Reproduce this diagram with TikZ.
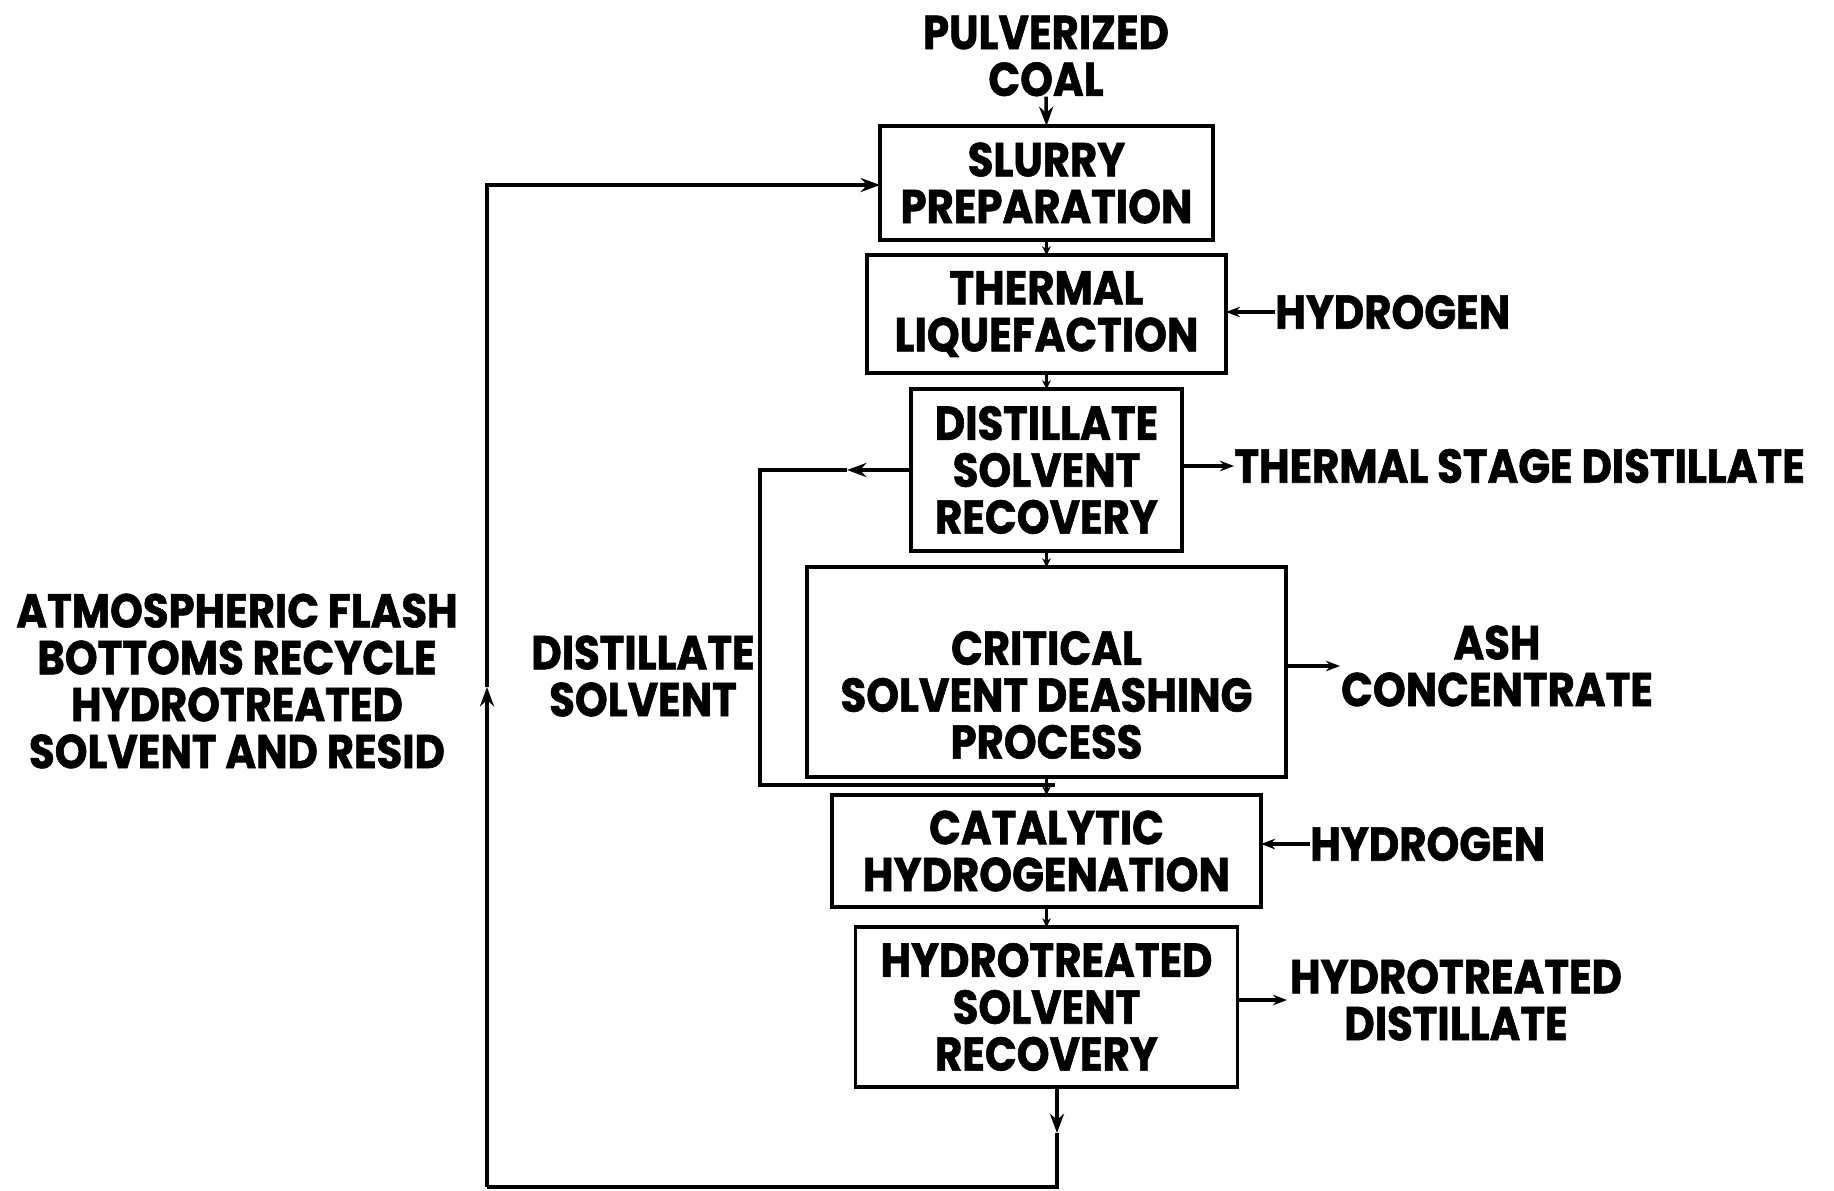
\documentclass[tikz,border=0pt]{standalone}
\usepackage{fontspec}
\setmainfont{Poppins}[FakeStretch=0.88, BoldFeatures={FakeBold=1.2}]
\usepackage{tikz}
\usetikzlibrary{arrows.meta,positioning,calc}

\begin{document}
\begin{tikzpicture}[
    unit/.style   = {rectangle, draw=black, line width=2pt, align=center,
                     inner sep=0pt, outer sep=0pt,
                     font=\fontsize{27}{26.7}\selectfont\bfseries},
    lbl/.style    = {align=center, inner sep=0pt,
                     font=\fontsize{27}{26.7}\selectfont\bfseries},
    flow/.style   = {line width=2pt, draw=black},
    arr/.style    = {-{Stealth[length=11pt,width=8pt]}, line width=2pt, draw=black},
    tiny/.style   = {-{Stealth[length=5pt,width=5pt]}, line width=2pt, draw=black},
    side/.style   = {-{Stealth[length=8pt,width=6pt]}, line width=2pt, draw=black}
  ]
    \useasboundingbox (0,0) rectangle (36.68,-23.8);

    % main train of units
    \node[unit, minimum width=6.66cm, minimum height=2.28cm] (slurry) at (20.93,-3.66)
         {SLURRY\\PREPARATION};
    \node[unit, minimum width=7.18cm, minimum height=2.36cm, below=0.30cm of slurry] (thermal)
         {THERMAL\\LIQUEFACTION};
    \node[unit, minimum width=5.42cm, minimum height=3.24cm, below=0.32cm of thermal] (dsr)
         {DISTILLATE\\SOLVENT\\RECOVERY};
    \node[unit, minimum width=9.58cm, minimum height=4.20cm, below=0.32cm of dsr] (csd) {};
    \node[lbl] (csdtxt) at ($(csd.center)+(0,-0.46)$)
         {CRITICAL\\SOLVENT DEASHING\\PROCESS};
    \node[unit, minimum width=8.58cm, minimum height=2.24cm, below=0.36cm of csd] (cat)
         {CATALYTIC\\HYDROGENATION};
    \node[unit, minimum width=7.64cm, minimum height=3.20cm, below=0.40cm of cat] (hsr)
         {HYDROTREATED\\SOLVENT\\RECOVERY};

    % feeds and products
    \node[lbl] (coal) at (20.92,-1.12) {PULVERIZED\\COAL};
    \node[lbl, anchor=west] (h2a) at (25.50,-6.24) {HYDROGEN};
    \node[lbl, anchor=west] (tsd) at (24.68,-9.32) {THERMAL STAGE DISTILLATE};
    \node[lbl] (ash) at (29.94,-13.32) {ASH\\CONCENTRATE};
    \node[lbl, anchor=west] (h2b) at (26.20,-16.88) {HYDROGEN};
    \node[lbl] (htd) at (29.12,-20.00) {HYDROTREATED\\DISTILLATE};
    \node[lbl] (atm) at (4.74,-13.62)
         {ATMOSPHERIC FLASH\\BOTTOMS RECYCLE\\HYDROTREATED\\SOLVENT AND RESID};
    \node[lbl] (dsolv) at (12.86,-13.52) {DISTILLATE\\SOLVENT};

    % loop corners
    \coordinate (dsL) at (15.20,-9.40);
    \coordinate (dsB) at (15.20,-15.70);
    \coordinate (dsJ) at (21.10,-15.70);
    \coordinate (rcD) at (21.14,-22.66);
    \coordinate (rcR) at (21.14,-23.74);
    \coordinate (rcL) at (9.74,-23.74);
    \coordinate (rcU) at (9.74,-13.74);
    \coordinate (rcT) at (9.74,-3.70);

    \draw[arr]  (coal.south) -- (slurry.north);
    \draw[tiny] (slurry) -- (thermal);
    \draw[tiny] (thermal) -- (dsr);
    \draw[tiny] (dsr) -- (csd);
    \draw[tiny] (csd) -- (cat);
    \draw[tiny] (cat) -- (hsr);

    \draw[side] (h2a.west) -- (thermal.east |- h2a.west);
    \draw[side] (dsr.east |- tsd.west) -- (tsd.west);
    \draw[side] (csd.east |- 0,-13.32) -- (26.80,-13.32);
    \draw[side] (h2b.west) -- (cat.east |- h2b.west);
    \draw[side] (hsr.east |- 0,-20.00) -- (25.74,-20.00);

    % distillate solvent return
    \draw[arr]  (dsr.west |- dsL) -- (16.94,-9.40);
    \draw[flow] (16.94,-9.40) -- (dsL) -- (dsB) -- (dsJ);

    % recycle of hydrotreated solvent and resid
    \draw[arr]  (hsr.south -| rcD) -- (rcD);
    \draw[flow] (rcD) -- (rcR) -- (rcL);
    \draw[arr]  (rcL) -- (rcU);
    \draw[arr]  (rcU) -- (rcT) -- (slurry.west |- rcT);
  \end{tikzpicture}
\end{document}
